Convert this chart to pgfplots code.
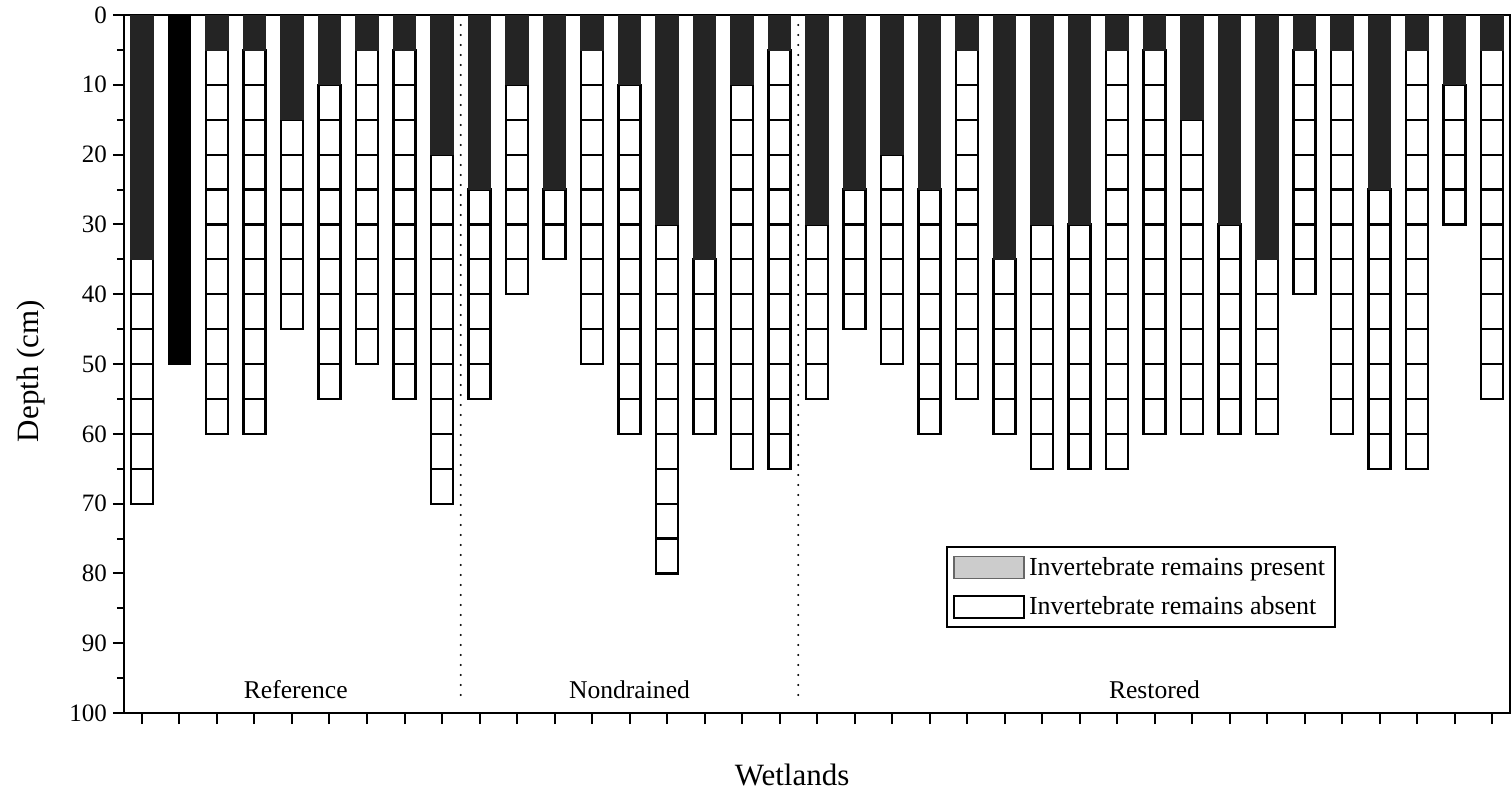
\documentclass[border=0pt]{standalone}
\usepackage{pgfplots}
\pgfplotsset{compat=1.18}
\usepackage{pgfplotstable}
\usepackage{fontspec}
\setmainfont{Liberation Serif}

% Core profiles: blk = solid black core, p = depth with invertebrate remains,
% s1..s12 = successive 5 cm slices without remains
\pgfplotstableread{
x  blk p  s1 s2 s3 s4 s5 s6 s7 s8 s9 s10 s11 s12
1  0  35 5 5 5 5 5 5 5 0 0 0 0 0
2  50 0  0 0 0 0 0 0 0 0 0 0 0 0
3  0  5  5 5 5 5 5 5 5 5 5 5 5 0
4  0  5  5 5 5 5 5 5 5 5 5 5 5 0
5  0  15 5 5 5 5 5 5 0 0 0 0 0 0
6  0  10 5 5 5 5 5 5 5 5 5 0 0 0
7  0  5  5 5 5 5 5 5 5 5 5 0 0 0
8  0  5  5 5 5 5 5 5 5 5 5 5 0 0
9  0  20 5 5 5 5 5 5 5 5 5 5 0 0
10 0  25 5 5 5 5 5 5 0 0 0 0 0 0
11 0  10 5 5 5 5 5 5 0 0 0 0 0 0
12 0  25 5 5 0 0 0 0 0 0 0 0 0 0
13 0  5  5 5 5 5 5 5 5 5 5 0 0 0
14 0  10 5 5 5 5 5 5 5 5 5 5 0 0
15 0  30 5 5 5 5 5 5 5 5 5 5 0 0
16 0  35 5 5 5 5 5 0 0 0 0 0 0 0
17 0  10 5 5 5 5 5 5 5 5 5 5 5 0
18 0  5  5 5 5 5 5 5 5 5 5 5 5 5
19 0  30 5 5 5 5 5 0 0 0 0 0 0 0
20 0  25 5 5 5 5 0 0 0 0 0 0 0 0
21 0  20 5 5 5 5 5 5 0 0 0 0 0 0
22 0  25 5 5 5 5 5 5 5 0 0 0 0 0
23 0  5  5 5 5 5 5 5 5 5 5 5 0 0
24 0  35 5 5 5 5 5 0 0 0 0 0 0 0
25 0  30 5 5 5 5 5 5 5 0 0 0 0 0
26 0  30 5 5 5 5 5 5 5 0 0 0 0 0
27 0  5  5 5 5 5 5 5 5 5 5 5 5 5
28 0  5  5 5 5 5 5 5 5 5 5 5 5 0
29 0  15 5 5 5 5 5 5 5 5 5 0 0 0
30 0  30 5 5 5 5 5 5 0 0 0 0 0 0
31 0  35 5 5 5 5 5 0 0 0 0 0 0 0
32 0  5  5 5 5 5 5 5 5 0 0 0 0 0
33 0  5  5 5 5 5 5 5 5 5 5 5 5 0
34 0  25 5 5 5 5 5 5 5 5 0 0 0 0
35 0  5  5 5 5 5 5 5 5 5 5 5 5 5
36 0  10 5 5 5 5 0 0 0 0 0 0 0 0
37 0  5  5 5 5 5 5 5 5 5 5 5 0 0
}\cores

\definecolor{present}{gray}{0.14}
\definecolor{presentkey}{gray}{0.80}

\begin{document}
\begin{tikzpicture}
\useasboundingbox (-62pt,-43pt) rectangle (694pt,356.5pt);
\begin{axis}[
  at={(0,0)}, anchor=south west,
  scale only axis, width=693pt, height=349pt,
  xmin=0.52, xmax=37.48, ymin=0, ymax=100, y dir=reverse,
  ybar stacked, bar width=11pt,
  axis line style={line width=1.1pt},
  xtick={1,...,37}, xticklabels={},
  ytick={0,10,...,100}, minor ytick={5,15,...,95},
  tick align=outside,
  xtick pos=bottom, ytick pos=left,
  major tick length=5.5pt, minor tick length=3.5pt,
  every tick/.style={line width=1pt, black},
  /pgf/number format/assume math mode=true,
  yticklabel style={font=\fontsize{12.5}{12.5}\selectfont, xshift=0.5pt},
  xlabel={Wetlands}, ylabel={Depth (cm)},
  label style={font=\fontsize{15.5}{16}\selectfont},
  xlabel style={at={(axis description cs:0.482,0)}, anchor=center, yshift=-31pt},
  ylabel style={at={(axis description cs:0,0.49)}, anchor=center, yshift=46.5pt},
  legend style={at={(axis description cs:0.8745,0.2393)}, anchor=north east,
    draw=black, line width=1pt, font=\fontsize{13}{13}\selectfont,
    row sep=5pt, inner xsep=3pt, inner ysep=3pt, cells={anchor=west}},
  legend image code/.code={},
]
\addlegendimage{legend image code/.code={
  \draw[fill=presentkey, draw=black!60, line width=0.6pt] (0pt,-5.5pt) rectangle (35pt,5.5pt);}}
\addlegendimage{legend image code/.code={
  \draw[fill=white, draw=black, line width=1pt] (0pt,-5.5pt) rectangle (35pt,5.5pt);}}

\addplot[fill=black, draw=black] table[x=x, y=blk]{\cores};
\addplot[fill=present, draw=present, line width=0.6pt] table[x=x, y=p]{\cores};
\pgfplotsinvokeforeach{1,...,12}{
  \addplot[fill=white, draw=black, line width=1.1pt] table[x=x, y=s#1]{\cores};
}
\legend{Invertebrate remains present, Invertebrate remains absent}

% group separators and names
\draw[line width=1.2pt, dash pattern=on 0pt off 5pt, line cap=round]
  (axis cs:9.5,0) -- (axis cs:9.5,98.2);
\draw[line width=1.2pt, dash pattern=on 0pt off 5pt, line cap=round]
  (axis cs:18.5,0) -- (axis cs:18.5,98.2);
\node[font=\fontsize{12.8}{13}\selectfont] at (axis cs:5.1,96.7) {Reference};
\node[font=\fontsize{12.8}{13}\selectfont] at (axis cs:14.0,96.7) {Nondrained};
\node[font=\fontsize{12.8}{13}\selectfont] at (axis cs:28.0,96.7) {Restored};
\end{axis}
\end{tikzpicture}
\end{document}
